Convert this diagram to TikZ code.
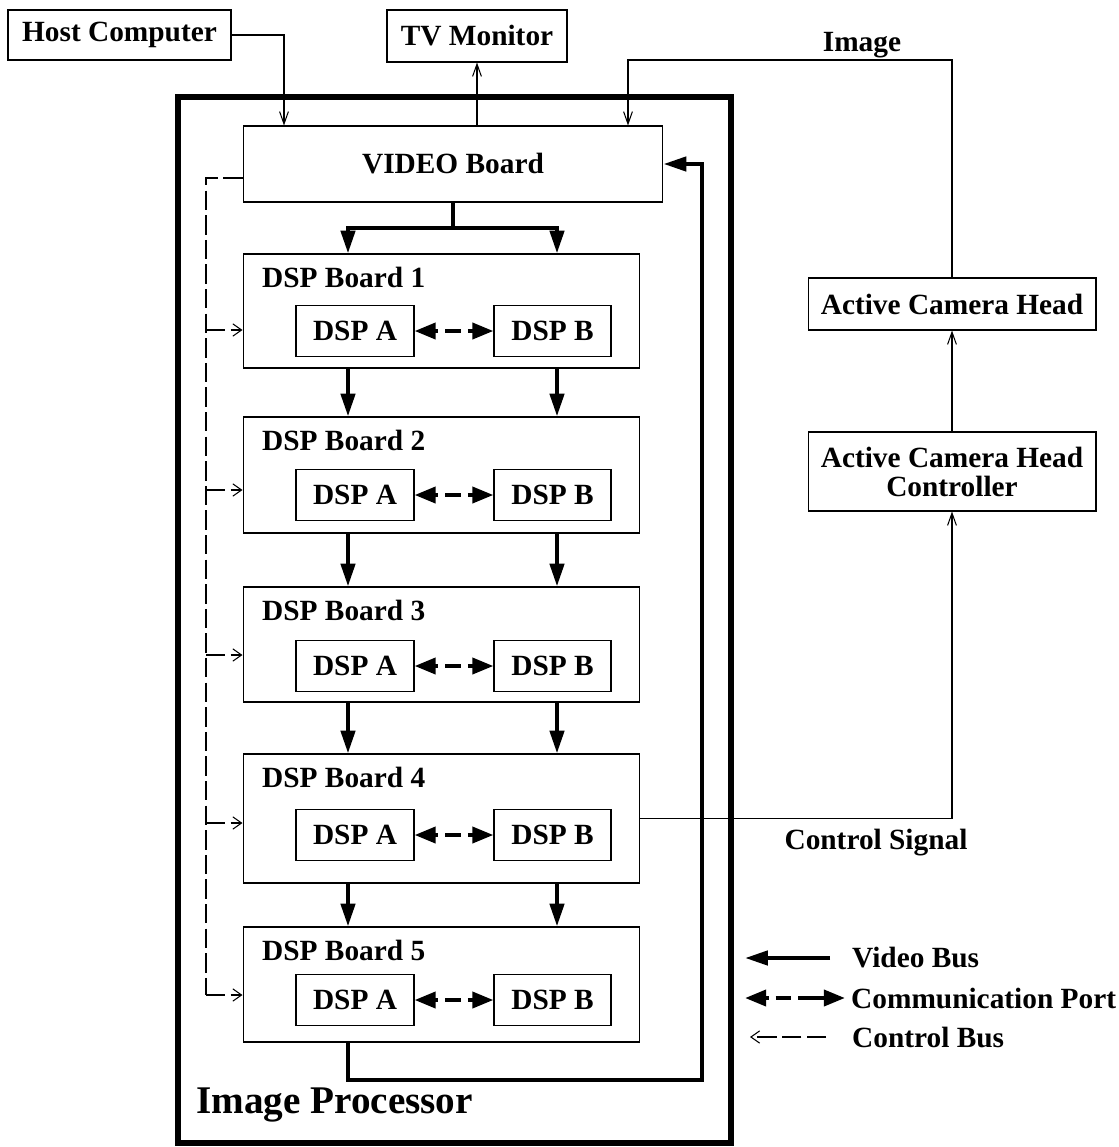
\documentclass[tikz,border=0pt]{standalone}
\usepackage{fontspec}
\setmainfont{Liberation Serif}
\usetikzlibrary{arrows.meta}

\begin{document}
\begin{tikzpicture}[x=0.02cm, y=-0.02cm,
        every node/.style={font=\fontsize{16.7}{16.5}\selectfont\bfseries},
        box/.style={draw, line width=0.6pt, inner sep=0pt, align=center},
        sig/.style={line width=0.6pt, -{Straight Barb[length=7pt, width=5pt]}},
        ctlbus/.style={line width=0.6pt, dash pattern=on 11pt off 3pt},
        ctlarrow/.style={ctlbus, -{Straight Barb[length=5pt, width=7pt]}},
        vline/.style={line width=2.4pt},
        vbus/.style={vline, -{Triangle[length=13pt, width=8pt]}},
        cport/.style={vline, dash pattern=on 2pt off 4pt on 9pt off 4pt on 30pt,
            {Triangle[length=12pt, width=9pt]}-{Triangle[length=12pt, width=9pt]}}]
    \useasboundingbox (0,0) rectangle (1119,1147);

    \node[box, minimum width=4.46cm, minimum height=1.0cm] (host) at (119.5,35) {Host Computer};
    \node[box, minimum width=3.6cm, minimum height=1.04cm] (tv) at (477,36) {TV Monitor};
    \node (imglab) at (862,45) {Image};
    \node[draw, line width=3pt, inner sep=0pt, minimum width=11.06cm, minimum height=20.92cm] (proc) at (454.5,620) {};
    \node[anchor=west, font=\fontsize{22.3}{24}\selectfont\bfseries] (proclab) at (190,1105) {Image Processor};
    \node[box, minimum width=8.4cm, minimum height=1.52cm] (video) at (453,164) {VIDEO Board};

    \node[box, minimum width=5.76cm, minimum height=1.04cm] (ach) at (952,304) {Active Camera Head};
    \node[box, minimum width=5.76cm, minimum height=1.58cm] (ctrl) at (952,471.5) {Active Camera Head\\Controller};
    \node (cslab) at (876,843) {Control Signal};

    \coordinate (colA) at (348,0);
    \coordinate (colB) at (557,0);
    \foreach \n/\t/\y/\bh/\d/\c in {1/254/311/2.28cm/331/330, 2/417/475/2.32cm/495/490,
            3/587/644.5/2.30cm/666/655, 4/754/818.5/2.58cm/835/823, 5/927/984.5/2.30cm/1000/995} {
        \node[box, minimum width=7.94cm, minimum height=\bh] (board\n) at (441.5,\y) {};
        \node[anchor=west] (blab\n) at (256,{\t+23}) {DSP Board \n};
        \node[box, minimum width=2.36cm, minimum height=1.02cm] (dspa\n) at (355,\d) {DSP A};
        \node[box, minimum width=2.34cm, minimum height=1.02cm] (dspb\n) at (552.5,\d) {DSP B};
        \draw[cport] (dspa\n.east) -- (dspb\n.west);
        \coordinate (cb\n) at (206,\c);
        \draw[ctlarrow] (cb\n) -- (board\n.west |- cb\n);
    }

    \coordinate (split) at (453,228);
    \draw[vline] (video.south) -- (split);
    \draw[vbus] (split) -| (board1.north -| colA);
    \draw[vbus] (split) -| (board1.north -| colB);
    \foreach \i/\j in {1/2, 2/3, 3/4, 4/5} {
        \draw[vbus] (board\i.south -| colA) -- (board\j.north -| colA);
        \draw[vbus] (board\i.south -| colB) -- (board\j.north -| colB);
    }
    \coordinate (fb) at (702,1080);
    \draw[vbus] (board5.south -| colA) |- (fb) |- (video.east);

    \coordinate (cbtop) at (206,178);
    \draw[ctlbus] (video.west |- cbtop) -- (cbtop) -- (cb5);

    \coordinate (hst) at (284,0);
    \coordinate (img) at (628,60);
    \draw[sig] (host.east) -| (video.north -| hst);
    \draw[sig] (video.north -| tv.south) -- (tv.south);
    \draw[sig] (ach.north) |- (img) -- (video.north -| img);
    \draw[sig] (ctrl.north) -- (ach.south);
    \draw[sig] (board4.east) -| (ctrl.south);

    % legend
    \node[anchor=west] (lvb) at (846,958) {Video Bus};
    \node[anchor=west] (lcp) at (845,998) {Communication Port};
    \node[anchor=west] (lcb) at (846,1037) {Control Bus};
    \coordinate (lg1) at (830,958);
    \coordinate (lg1e) at (745,958);
    \coordinate (lg2) at (745,998);
    \coordinate (lg3) at (826,1037);
    \coordinate (lg3e) at (750,1037);
    \draw[vbus] (lg1) -- (lg1e);
    \draw[cport] (lg2) -- (lcp.west);
    \draw[ctlarrow] (lg3) -- (lg3e);
\end{tikzpicture}
\end{document}
